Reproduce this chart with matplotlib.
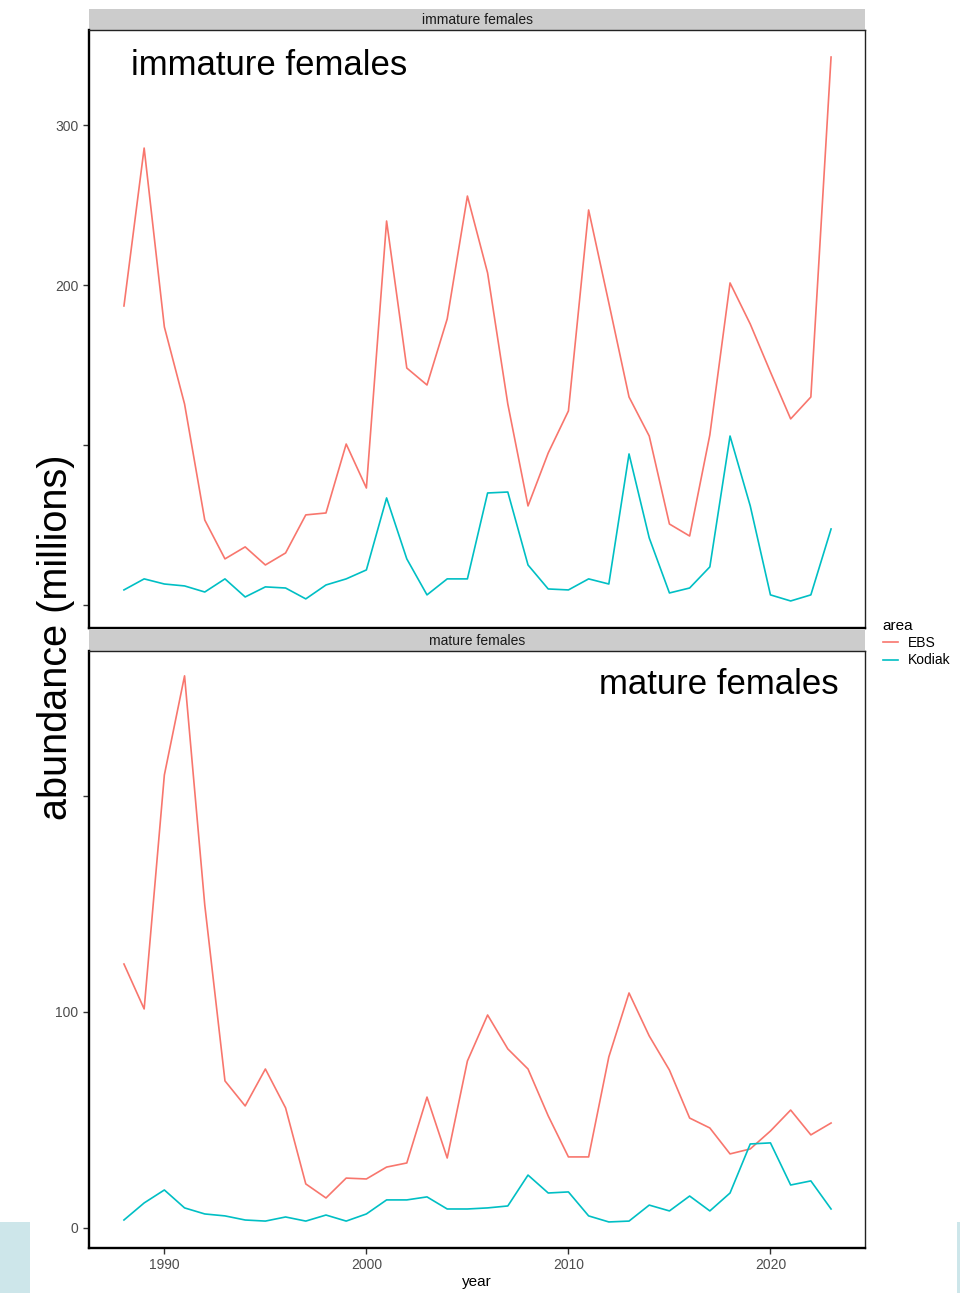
import matplotlib
matplotlib.use("Agg")
import matplotlib.pyplot as plt
from matplotlib.patches import Rectangle
from matplotlib.lines import Line2D

plt.rcParams['font.family'] = ['Liberation Sans', 'DejaVu Sans']

# survey years
years = list(range(1988, 2024))

# immature females (millions)
imm_ebs = [186.9, 285.6, 173.8, 125.6, 53.1, 28.8, 36.3, 25.0, 32.5, 56.3,
           57.5, 100.6, 73.1, 240.0, 148.1, 137.5, 178.8, 255.6, 207.5, 125.6,
           61.9, 95.0, 121.3, 246.9, 188.8, 130.0, 105.6, 50.6, 43.1, 106.3,
           201.3, 175.6, 145.6, 116.3, 130.0, 342.5]
imm_kodiak = [9.4, 16.3, 13.1, 11.9, 8.1, 16.3, 5.0, 11.3, 10.6, 3.8,
              12.5, 16.3, 21.9, 66.9, 28.8, 6.3, 16.3, 16.3, 70.0, 70.6,
              25.0, 10.0, 9.4, 16.3, 13.1, 94.4, 41.9, 7.5, 10.6, 23.8,
              105.6, 61.9, 6.3, 2.5, 6.3, 47.5]

# mature females (millions)
mat_ebs = [122.2, 101.4, 209.7, 255.6, 149.5, 68.1, 56.5, 73.6, 55.6, 20.4,
           13.9, 23.1, 22.7, 28.2, 30.1, 60.6, 32.4, 77.3, 98.6, 82.9,
           73.6, 51.9, 32.9, 32.9, 79.2, 108.8, 88.9, 73.1, 50.9, 46.3,
           34.3, 36.6, 44.9, 54.6, 43.1, 48.6]
mat_kodiak = [3.7, 11.6, 17.6, 9.3, 6.5, 5.6, 3.7, 3.2, 5.1, 3.2,
              6.0, 3.2, 6.5, 13.0, 13.0, 14.4, 8.8, 8.8, 9.3, 10.2,
              24.5, 16.2, 16.7, 5.6, 2.8, 3.2, 10.6, 7.9, 14.8, 7.9,
              16.2, 38.9, 39.4, 19.9, 21.8, 8.8]

areas = ["EBS", "Kodiak"]
colors = ["#F8766D", "#00BFC4"]

W, H = 960, 1293
fig = plt.figure(figsize=(W / 100, H / 100), dpi=100)

def make_panel(top_px, bottom_px):
    ax = fig.add_axes([89 / W, 1 - bottom_px / H, 776 / W, (bottom_px - top_px) / H])
    return ax

ax1 = make_panel(30, 628)
ax2 = make_panel(651, 1248)

panels = [
    (ax1, imm_ebs, imm_kodiak, "immature females", (-14.4, 359.4), [0, 100, 200, 300], ["", "", "200", "300"]),
    (ax2, mat_ebs, mat_kodiak, "mature females", (-9.26, 267.1), [0, 100, 200], ["0", "100", ""]),
]

for ax, ebs, kod, name, ylim, yt, ytl in panels:
    ax.plot(years, ebs, color=colors[0], lw=1.2)
    ax.plot(years, kod, color=colors[1], lw=1.2)
    ax.set_xlim(1986.27, 2024.68)
    ax.set_ylim(*ylim)
    ax.set_yticks(yt)
    ax.set_yticklabels(ytl)
    ax.set_xticks([1990, 2000, 2010, 2020])
    for side in ["left", "bottom"]:
        ax.spines[side].set_linewidth(1.7)
        ax.spines[side].set_color("black")
    for side in ["top", "right"]:
        ax.spines[side].set_linewidth(1.0)
        ax.spines[side].set_color("#222222")
    ax.tick_params(axis="both", direction="out", length=4, width=1, color="#333333",
                   labelsize=10, labelcolor="#4D4D4D")
    # facet strip
    ax.add_patch(Rectangle((0, 1.0), 1, 21 / 598, transform=ax.transAxes,
                           facecolor="#CCCCCC", edgecolor="none", clip_on=False, zorder=0))
    ax.text(0.5, 1.0 + 10.5 / 598, name, transform=ax.transAxes, ha="center",
            va="center", fontsize=10, color="#1A1A1A")

ax1.tick_params(axis="x", bottom=False, labelbottom=False)
ax2.set_xlabel("year", fontsize=11, color="black", labelpad=2)

ax1.text(0.054, 0.925, "immature females", transform=ax1.transAxes,
         ha="left", va="baseline", fontsize=25)
ax2.text(0.9665, 0.928, "mature females", transform=ax2.transAxes,
         ha="right", va="baseline", fontsize=25)

fig.text(56 / W, 1 - 637 / H, "abundance (millions)", rotation=90, ha="center",
         va="center", fontsize=28.5)

handles = [Line2D([], [], color=c, lw=1.2) for c in colors]
leg = fig.legend(handles, areas, title="area", loc="upper left",
                 bbox_to_anchor=(870 / W, 1 - 606 / H), frameon=False,
                 fontsize=10, title_fontsize=11, handlelength=1.1,
                 handletextpad=0.7, labelspacing=0.25)
leg._legend_box.align = "left"

# light blue blocks along the bottom edge
fig.patches.append(Rectangle((0, 0), 30 / W, 71 / H, transform=fig.transFigure,
                             facecolor="#CDE6EA", edgecolor="none"))
fig.patches.append(Rectangle((957 / W, 0), 3 / W, 71 / H, transform=fig.transFigure,
                             facecolor="#CDE6EA", edgecolor="none"))

fig.savefig("out.png", dpi=100)
